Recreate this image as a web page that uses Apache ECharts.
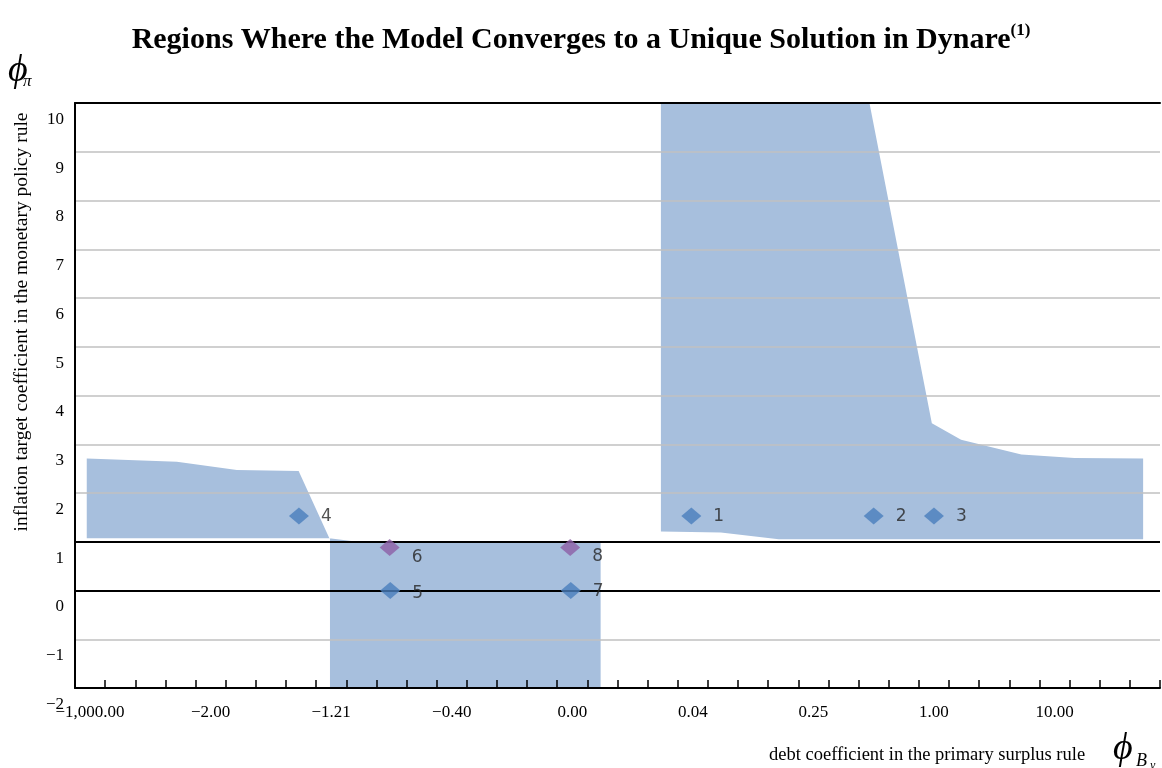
<!DOCTYPE html>
<html>
<head>
<meta charset="utf-8">
<title>Regions Where the Model Converges to a Unique Solution in Dynare</title>
<script src="https://cdn.jsdelivr.net/npm/echarts@6/dist/echarts.min.js"></script>
<style>
  html, body { margin: 0; padding: 0; background: #ffffff; }
  #chart { width: 1162px; height: 768px; }
</style>
</head>
<body>
<div id="chart"></div>
<script>
// Horizontal axis: 36 equal slots of the debt coefficient grid, one label every 4 slots
const xSlotCount = 36;
const xLabelSlots = [0.5, 4.5, 8.5, 12.5, 16.5, 20.5, 24.5, 28.5, 32.5];
const xLabelTexts = ['\u22121,000.00', '\u22122.00', '\u22121.21', '\u22120.40', '0.00', '0.04', '0.25', '1.00', '10.00'];

// Vertical axis: inflation coefficient
const yMin = -2;
const yMax = 10;
const referenceLines = [1, 0];

// Uniqueness region for negative debt coefficients (upper and lower edges)
const leftRegionTopX = [0.39, 3.38, 5.37, 7.42, 8.44, 9.36, 17.44];
const leftRegionTopY = [2.71, 2.64, 2.47, 2.45, 1.07, 1.0, 1.0];
const leftRegionBottomX = [0.39, 8.46, 8.46, 17.44];
const leftRegionBottomY = [1.07, 1.07, -2, -2];

// Uniqueness region for positive debt coefficients
const rightRegionTopX = [19.44, 26.36, 28.43, 29.40, 31.40, 33.16, 35.44];
const rightRegionTopY = [10, 10, 3.43, 3.09, 2.79, 2.72, 2.71];
const rightRegionBottomX = [19.44, 21.43, 23.35, 35.44];
const rightRegionBottomY = [1.21, 1.19, 1.05, 1.05];

// Numbered parameter combinations
const blueCaseIds = ['1', '2', '3', '4', '5', '7'];
const blueCaseX = [20.45, 26.5, 28.5, 7.43, 10.46, 16.45];
const blueCaseY = [1.53, 1.53, 1.53, 1.53, 0, 0];
const purpleCaseIds = ['6', '8'];
const purpleCaseX = [10.44, 16.43];
const purpleCaseY = [0.88, 0.88];

const SERIF = '"Liberation Serif", "Times New Roman", serif';
const SANS = '"DejaVu Sans", Verdana, sans-serif';
const REGION_FILL = '#a7bfdd';

// small vertical nudges for the case number labels
const labelNudge = { '5': 3, '6': 10, '8': 9 };

function regionSeries(name, topX, topY, botX, botY) {
  return {
    name: name,
    type: 'custom',
    coordinateSystem: 'cartesian2d',
    silent: true,
    z: 1,
    data: [[topX[0], topY[0]]],
    renderItem: function (params, api) {
      const pts = [];
      for (let i = 0; i < topX.length; i++) pts.push(api.coord([topX[i], topY[i]]));
      for (let i = botX.length - 1; i >= 0; i--) pts.push(api.coord([botX[i], botY[i]]));
      return { type: 'polygon', shape: { points: pts }, style: { fill: REGION_FILL } };
    }
  };
}

function caseData(ids, xs, ys) {
  return ids.map(function (id, i) {
    return {
      name: id,
      value: [xs[i], ys[i]],
      label: { offset: [0, labelNudge[id] || 1] }
    };
  });
}

function caseSeries(name, ids, xs, ys, color) {
  return {
    name: name,
    type: 'scatter',
    z: 6,
    symbol: 'diamond',
    symbolSize: [20, 17],
    itemStyle: { color: color },
    label: {
      show: true,
      position: 'right',
      distance: 12,
      formatter: '{b}',
      fontFamily: SANS,
      fontSize: 17,
      color: '#262626'
    },
    data: caseData(ids, xs, ys)
  };
}

function mathText(x, y, text, size) {
  return {
    type: 'text',
    x: x,
    y: y,
    style: {
      text: text,
      fontFamily: SERIF,
      fontStyle: 'italic',
      fontSize: size,
      fill: '#000',
      align: 'left',
      verticalAlign: 'top'
    }
  };
}

const chart = echarts.init(document.getElementById('chart'), null, { renderer: 'canvas' });

const option = {
  backgroundColor: '#ffffff',
  animation: false,
  title: {
    left: 'center',
    top: 17,
    text: '{t|Regions Where the Model Converges to a Unique Solution in Dynare}{s|(1)}',
    textStyle: {
      rich: {
        t: { fontFamily: SERIF, fontWeight: 'bold', fontSize: 30, color: '#000', lineHeight: 36 },
        s: { fontFamily: SERIF, fontWeight: 'bold', fontSize: 17, color: '#000', verticalAlign: 'top', lineHeight: 36, padding: [0, 0, 14, 0] }
      }
    }
  },
  grid: { left: 75, right: 2, top: 103, bottom: 80, containLabel: false },
  xAxis: [
    {
      type: 'value',
      min: 0,
      max: xSlotCount,
      interval: 1,
      z: 3,
      axisLine: { show: true, onZero: false, lineStyle: { color: '#000', width: 2 } },
      axisTick: { show: true, inside: true, length: 8, lineStyle: { color: '#000', width: 1.5 } },
      splitLine: { show: false },
      axisLabel: {
        customValues: xLabelSlots,
        formatter: function (v) {
          const k = xLabelSlots.indexOf(v);
          return k >= 0 ? xLabelTexts[k] : '';
        },
        margin: 16,
        fontFamily: SERIF,
        fontSize: 17,
        color: '#000'
      }
    },
    {
      type: 'value',
      position: 'top',
      min: 0,
      max: xSlotCount,
      z: 3,
      axisLine: { show: true, onZero: false, lineStyle: { color: '#000', width: 2 } },
      axisTick: { show: false },
      axisLabel: { show: false },
      splitLine: { show: false }
    }
  ],
  yAxis: {
    type: 'value',
    min: yMin,
    max: yMax,
    interval: 1,
    z: 3,
    axisLine: { show: true, onZero: false, lineStyle: { color: '#000', width: 2 } },
    axisTick: { show: false },
    splitLine: { show: true, lineStyle: { color: '#c0c0c0', width: 1.5 } },
    axisLabel: {
      margin: 11,
      verticalAlign: 'top',
      padding: [8, 0, 0, 0],
      fontFamily: SERIF,
      fontSize: 17,
      color: '#000',
      formatter: function (v) { return v < 0 ? '\u2212' + Math.abs(v) : String(v); }
    }
  },
  graphic: [
    mathText(8, 52, '\u03d5', 38),
    mathText(23, 73, '\u03c0', 17),
    {
      type: 'text',
      x: 22,
      y: 322,
      rotation: Math.PI / 2,
      style: {
        text: 'inflation target coefficient in the monetary policy rule',
        fontFamily: SERIF,
        fontSize: 19.5,
        fill: '#000',
        align: 'center',
        verticalAlign: 'middle'
      }
    },
    {
      type: 'text',
      x: 769,
      y: 755,
      style: {
        text: 'debt coefficient in the primary surplus rule',
        fontFamily: SERIF,
        fontSize: 18.5,
        fill: '#000',
        align: 'left',
        verticalAlign: 'middle'
      }
    },
    mathText(1113, 730, '\u03d5', 38),
    mathText(1136, 752, 'B', 18),
    mathText(1150, 760, 'y', 12)
  ],
  series: [
    regionSeries('negative debt coefficients', leftRegionTopX, leftRegionTopY, leftRegionBottomX, leftRegionBottomY),
    regionSeries('positive debt coefficients', rightRegionTopX, rightRegionTopY, rightRegionBottomX, rightRegionBottomY),
    {
      name: 'reference lines',
      type: 'line',
      data: [],
      silent: true,
      markLine: {
        silent: true,
        symbol: ['none', 'none'],
        label: { show: false },
        z: 4,
        lineStyle: { color: '#000', width: 2, type: 'solid' },
        data: referenceLines.map(function (v) { return { yAxis: v }; })
      }
    },
    caseSeries('cases', blueCaseIds, blueCaseX, blueCaseY, '#4a7ebd'),
    caseSeries('cases with sign change', purpleCaseIds, purpleCaseX, purpleCaseY, '#8d5fa6')
  ]
};

chart.setOption(option);
</script>
</body>
</html>
